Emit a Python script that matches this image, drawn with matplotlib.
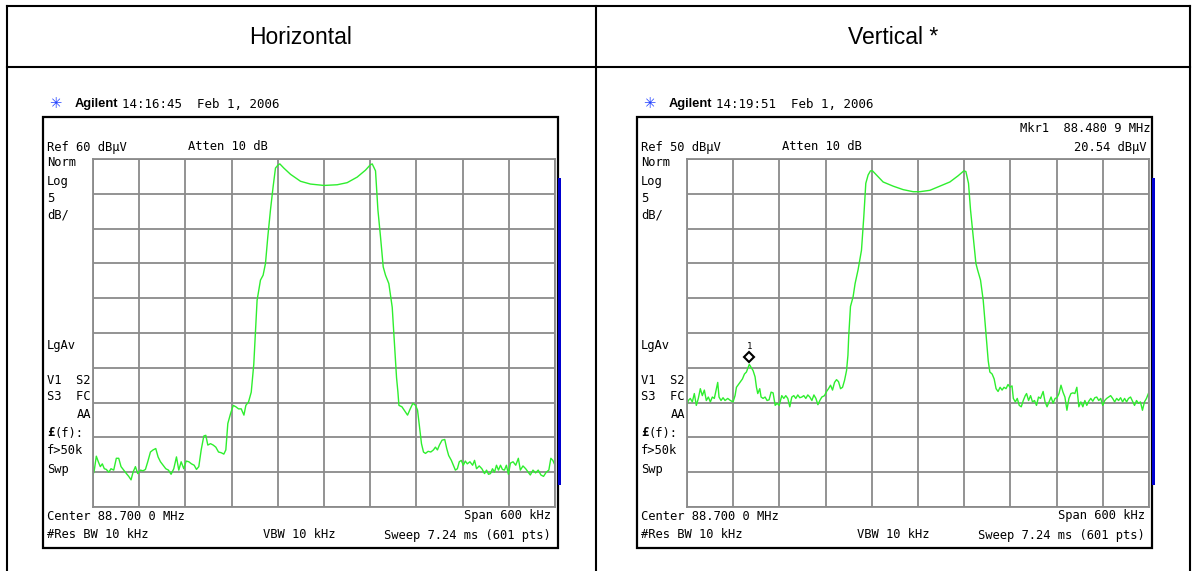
# two Agilent spectrum captures side by side, Horizontal / Vertical

import numpy as np
import matplotlib.pyplot as plt
from matplotlib.patches import Rectangle
from matplotlib.transforms import offset_copy

# trace readings: offset from 88.700 MHz centre in kHz, level in dBuV
h_freq = [-300, -298.3, -295.7, -293.1, -290.5, -287.9, -285.3, -282.7, -279.6, -276.6,
          -273.1, -269.7, -266.6, -263.6, -260.1, -256.6, -253.6, -250.6, -248.0, -244.9,
          -241.9, -238.4, -235.0, -231.9, -228.9, -225.4, -222.0, -218.5, -215.5, -212.4,
          -209.0, -205.5, -202.0, -198.6, -195.1, -191.6, -188.6, -185.5, -182.1, -179.0,
          -175.6, -172.1, -168.6, -165.6, -162.6, -159.5, -156.1, -153.5, -150.9, -147.4,
          -143.9, -140.5, -137.0, -133.5, -130.1, -127.5, -124.9, -121.4, -117.9, -114.5,
          -111.0, -107.5, -104.0, -101.5, -98.0, -94.5, -91.2, -86.9, -82.5, -79.1,
          -76.0, -73.0, -69.5, -66.1, -63.0, -60.0, -57.4, -52.2, -43.5, -30.5,
          -17.6, 0, 17.1, 30.1, 43.1, 53.9, 59.6, 62.6, 66.9, 70.0,
          73.4, 76.9, 79.9, 84.2, 88.6, 91.6, 94.2, 96.0, 97.3, 101.2,
          105.5, 108.5, 112.0, 115.4, 118.9, 121.5, 124.0, 126.6, 129.2, 131.8,
          135.2, 138.7, 142.1, 144.7, 147.3, 149.9, 153.3, 156.8, 159.4, 161.9,
          165.4, 168.0, 170.6, 173.2, 175.7, 178.3, 180.9, 183.5, 186.1, 189.5,
          193.0, 195.5, 198.1, 201.6, 205.0, 208.5, 211.1, 213.6, 216.2, 218.8,
          221.4, 224.0, 226.6, 229.2, 231.7, 234.3, 236.9, 239.5, 242.1, 245.5,
          249.0, 252.4, 255.0, 258.4, 261.9, 265.3, 267.9, 271.4, 274.8, 278.2,
          281.7, 285.1, 288.6, 292.0, 294.6, 297.2, 300]
h_level = [14.6, 15.3, 17.3, 16.5, 15.8, 16.2, 15.5, 15.4, 15.0, 15.5,
           15.3, 17.0, 17.0, 15.8, 15.3, 14.8, 14.4, 13.9, 15.0, 15.8,
           14.8, 15.3, 15.2, 15.4, 16.5, 17.9, 18.2, 18.4, 17.2, 16.5,
           16.0, 15.5, 15.3, 14.7, 15.5, 17.2, 15.3, 16.5, 15.5, 16.6,
           16.5, 16.2, 16.0, 15.4, 15.8, 18.2, 20.2, 20.3, 18.9, 19.1,
           18.9, 18.6, 17.9, 17.8, 17.6, 18.2, 22.0, 23.4, 24.6, 24.4,
           24.1, 24.1, 23.2, 24.6, 25.1, 26.5, 30.5, 39.7, 42.6, 43.3,
           45.0, 48.8, 52.7, 56.0, 58.7, 59.1, 59.3, 58.7, 57.8, 56.8,
           56.4, 56.2, 56.3, 56.6, 57.4, 58.4, 59.1, 59.3, 58.3, 52.7,
           48.8, 44.5, 43.3, 42.1, 38.7, 33.4, 28.6, 26.5, 24.6, 24.4,
           23.7, 23.2, 24.1, 24.9, 24.6, 23.9, 21.5, 19.1, 17.9, 17.7,
           18.0, 17.9, 18.2, 18.6, 18.2, 18.9, 19.6, 19.7, 18.4, 17.4,
           16.7, 16.0, 15.3, 15.5, 16.5, 16.7, 16.0, 16.6, 16.2, 16.5,
           16.0, 16.7, 15.5, 15.9, 15.5, 14.8, 15.3, 14.7, 14.8, 15.5,
           15.0, 16.0, 15.3, 16.0, 15.4, 15.3, 16.0, 14.7, 16.3, 16.5,
           16.0, 17.0, 15.3, 15.9, 15.5, 15.0, 14.6, 15.3, 14.9, 15.3,
           14.6, 14.4, 15.0, 15.3, 17.0, 16.7, 16.0]

v_freq = [-300, -298.3, -295.7, -293.1, -290.5, -287.9, -285.3, -282.7, -280.1, -277.5,
          -274.9, -272.3, -269.7, -267.1, -264.5, -261.9, -260.1, -258.4, -255.8, -253.2,
          -250.6, -247.1, -243.6, -240.2, -237.6, -235.8, -233.2, -230.6, -228.0, -225.4,
          -222.8, -219.1, -214.2, -211.6, -209.8, -208.1, -205.5, -203.8, -201.2, -198.6,
          -196.0, -193.4, -190.8, -188.2, -185.5, -182.9, -180.3, -176.9, -174.3, -171.7,
          -169.1, -166.5, -163.9, -161.3, -158.7, -156.1, -153.5, -150.9, -148.3, -145.7,
          -143.1, -140.5, -137.8, -135.2, -132.6, -130.0, -127.5, -124.9, -121.4, -118.8,
          -116.2, -113.6, -111.0, -108.4, -105.8, -103.2, -100.6, -98.0, -95.4, -92.8,
          -91.0, -90.0, -87.7, -84.3, -81.7, -77.8, -73.4, -70.4, -67.8, -64.8,
          -61.7, -59.1, -53.9, -45.3, -32.3, -19.3, -6.3, 2.4, 15.4, 28.4,
          41.4, 52.2, 59.6, 62.2, 65.6, 68.2, 71.7, 75.2, 77.3, 81.2,
          84.7, 88.2, 91.2, 93.3, 96.3, 98.9, 101.4, 104.0, 106.6, 109.2,
          111.7, 114.3, 116.9, 119.5, 122.1, 123.8, 126.4, 128.9, 131.5, 134.1,
          136.7, 139.3, 141.0, 143.6, 146.2, 148.7, 151.3, 153.9, 156.5, 159.1,
          162.5, 165.0, 167.6, 170.2, 172.8, 175.4, 178.0, 180.5, 183.1, 185.7,
          188.3, 190.8, 193.4, 196.0, 198.6, 201.2, 203.7, 206.3, 208.9, 211.5,
          214.1, 216.7, 219.2, 221.8, 224.4, 227.0, 229.6, 232.1, 234.7, 237.3,
          239.9, 242.5, 245.0, 247.6, 250.2, 252.8, 255.4, 258.0, 260.5, 263.1,
          265.7, 268.3, 270.9, 273.4, 276.0, 278.6, 281.2, 283.8, 286.3, 288.9,
          291.5, 294.1, 296.7, 299.2]
v_level = [14.6, 15.3, 15.6, 15.1, 16.3, 14.6, 15.6, 17.0, 16.0, 16.8,
           15.3, 15.8, 15.1, 15.8, 15.6, 17.0, 17.9, 15.8, 15.3, 15.7,
           15.3, 15.6, 15.3, 15.1, 16.0, 17.2, 17.6, 18.0, 18.4, 19.1,
           19.4, 20.5, 19.6, 18.7, 17.2, 16.3, 17.0, 15.8, 15.6, 15.8,
           15.3, 15.4, 16.5, 16.4, 14.6, 14.9, 14.6, 16.0, 15.6, 16.0,
           15.6, 14.4, 15.8, 16.0, 15.6, 16.1, 15.7, 15.8, 16.0, 15.6,
           16.1, 15.8, 15.3, 16.1, 15.6, 14.7, 15.3, 15.8, 16.0, 16.6,
           17.0, 17.5, 16.8, 17.9, 18.3, 18.0, 17.0, 17.2, 18.2, 19.6,
           21.8, 24.5, 28.8, 30.2, 32.1, 34.1, 36.9, 41.7, 46.5, 47.7,
           48.3, 48.3, 47.7, 46.7, 46.1, 45.6, 45.3, 45.3, 45.5, 46.1,
           46.7, 47.6, 48.3, 48.2, 46.5, 42.7, 38.8, 35.0, 34.1, 32.6,
           29.7, 25.0, 21.0, 19.4, 19.1, 18.4, 17.0, 16.6, 17.2, 16.8,
           17.2, 17.0, 17.6, 17.2, 17.4, 15.6, 15.1, 15.6, 14.6, 14.4,
           15.3, 16.0, 16.3, 15.3, 16.0, 15.1, 15.3, 14.6, 15.8, 15.6,
           16.6, 15.1, 14.4, 15.1, 15.8, 14.9, 15.6, 15.7, 16.3, 17.5,
           16.5, 15.8, 13.9, 15.6, 16.3, 16.4, 16.3, 17.2, 14.4, 15.1,
           14.4, 15.3, 14.6, 15.2, 15.6, 15.2, 15.7, 15.8, 15.3, 15.6,
           14.6, 15.3, 15.6, 15.8, 16.0, 15.6, 15.1, 15.6, 15.3, 15.7,
           15.1, 15.6, 15.1, 15.6, 15.8, 15.2, 14.6, 15.3, 14.9, 15.1,
           13.9, 15.1, 15.6, 16.3]

mkr_freq = -219.1
mkr_level = 20.54

W, H = 1192, 571
mono = 'DejaVu Sans Mono'
fs = 8.7
green = '#2eee2e'
gridc = '#8a8a8a'

fig = plt.figure(figsize=(W / 100, H / 100), dpi=100)
bg = fig.add_axes([0, 0, 1, 1])
bg.set_xlim(0, W)
bg.set_ylim(H, 0)
bg.axis('off')

# table lines
lw_t = 1.5
bg.plot([7, 1190], [6, 6], color='k', lw=lw_t)
bg.plot([7, 1190], [67, 67], color='k', lw=lw_t)
for x in [7, 596, 1190]:
    bg.plot([x, x], [6, H], color='k', lw=lw_t)

bg.text(301, 37, 'Horizontal', family='Liberation Sans', fontsize=16.5, ha='center', va='center')
bg.text(893, 37, 'Vertical *', family='Liberation Sans', fontsize=16.5, ha='center', va='center')


def txt(x, y, s, **kw):
    opts = dict(family=mono, fontsize=fs, va='center', ha='left')
    opts.update(kw)
    bg.text(x, y, s, **opts)


def panel(sx, ref, stamp, freq, level, marker=False):
    # header line
    bg.text(55 + sx, 104, '✳', color='#2040ff', fontsize=10.5, ha='center', va='center', family='DejaVu Sans')
    bg.text(75 + sx, 104, 'Agilent', family='Liberation Sans', weight='bold', fontsize=9.3, va='center')
    txt(122 + sx, 104, stamp, fontsize=9)

    bg.add_patch(Rectangle((43 + sx, 117), 515, 431, fill=False, ec='k', lw=1.6))
    bg.add_patch(Rectangle((558 + sx, 178), 3, 307, fc='#0000d0', ec='none'))

    txt(47 + sx, 147, 'Ref %d dBμV' % ref)
    txt(188 + sx, 147, 'Atten 10 dB')
    for s, y in [('Norm', 163), ('Log', 182), ('5', 198), ('dB/', 215), ('LgAv', 345),
                 ('V1  S2', 380), ('S3  FC', 397), ('f>50k', 451), ('Swp', 469)]:
        txt(47 + sx, y, s)
    txt(91 + sx, 414, 'AA', ha='right')
    txt(47 + sx, 433, '£', weight='bold')
    txt(54.3 + sx, 433, '(f):')
    txt(47 + sx, 516, 'Center 88.700 0 MHz')
    txt(551 + sx, 516, 'Span 600 kHz', ha='right')
    txt(47 + sx, 535, '#Res BW 10 kHz')
    txt(263 + sx, 535, 'VBW 10 kHz')
    txt(551 + sx, 535, 'Sweep 7.24 ms (601 pts)', ha='right')
    txt(541 + sx, 180, '*', ha='center', fontsize=12)

    ax = fig.add_axes([(93 + sx) / W, 1 - 507 / H, 462 / W, 348 / H])
    ax.set_xlim(-300, 300)
    ax.set_ylim(ref - 50, ref)
    ax.set_xticks(np.linspace(-300, 300, 11))
    ax.set_yticks(np.linspace(ref - 50, ref, 11))
    ax.grid(True, color=gridc, lw=1.3)
    ax.tick_params(length=0, labelbottom=False, labelleft=False)
    for sp in ax.spines.values():
        sp.set_color(gridc)
        sp.set_linewidth(1.3)
    ax.plot(freq, level, color=green, lw=1.0)

    if marker:
        tr = offset_copy(ax.transData, fig=fig, y=7, units='dots')
        ax.plot(mkr_freq, mkr_level, marker='D', ms=5, mfc='white', mec='k', mew=1.5,
                transform=tr, zorder=5)
        tr2 = offset_copy(ax.transData, fig=fig, y=18, units='dots')
        ax.text(mkr_freq, mkr_level, '1', transform=tr2, family=mono, fontsize=6.5,
                ha='center', va='center')
        txt(556 + sx, 129, 'Mkr1  88.480 9 MHz', ha='right')
        txt(552 + sx, 147, '%.2f dBμV' % mkr_level, ha='right')
    return ax


panel(0, 60, '14:16:45  Feb 1, 2006', h_freq, h_level)
panel(594, 50, '14:19:51  Feb 1, 2006', v_freq, v_level, marker=True)

fig.savefig('out.png', dpi=100)
